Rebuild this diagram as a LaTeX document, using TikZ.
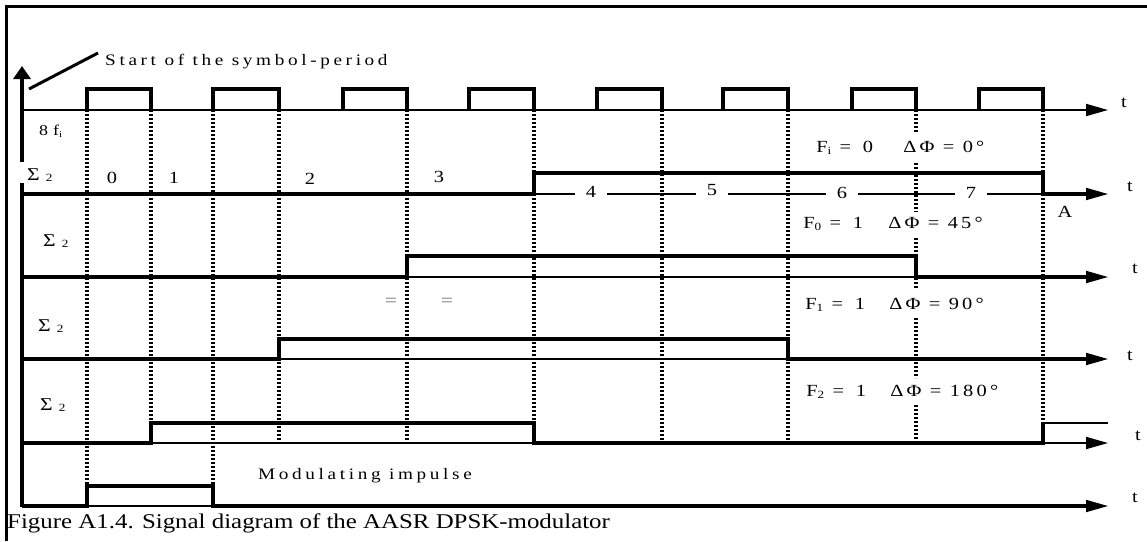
\documentclass[tikz,border=0pt]{standalone}
\usepackage{fontspec}
\setmainfont{Liberation Serif}
\newfontfamily\spacedA[LetterSpace=19]{Liberation Serif}
\newfontfamily\spacedB[LetterSpace=16]{Liberation Serif}
\usetikzlibrary{arrows.meta}
\tikzset{
  sig/.style={line width=3.2pt, line join=miter},
  axisline/.style={line width=1.8pt, -{Triangle[length=22pt,width=12pt]}},
  dotline/.style={line width=3.8pt, dash pattern=on 2.4pt off 1.6pt},
  txt/.style={inner sep=0pt, xscale=1.2},
  flab/.style={txt, anchor=base west, font=\spacedB\fontsize{17}{19}\selectfont},
  tlab/.style={txt, anchor=base, font=\fontsize{17}{19}\selectfont},
  siglab/.style={txt, anchor=base west, font=\fontsize{18}{20}\selectfont},
}
\newcommand{\sigtwo}{Σ\hspace{5pt}\raisebox{-1pt}{\fontsize{11}{12}\selectfont 2}}
\newcommand{\subsc}[1]{\raisebox{-2pt}{\fontsize{11}{12}\selectfont #1}}
\begin{document}
\begin{tikzpicture}[x=1pt,y=-1pt]
\useasboundingbox (0,0) rectangle (1147,541);
% frame
\draw[line width=3pt] (6,541) -- (6,6) -- (1147,6);
% vertical axis
\draw[line width=4.5pt, -{Triangle[length=13pt,width=17pt]}] (22,507) -- (22,66);
\fill[white] (15,162) rectangle (29,183);
\draw[line width=3pt] (29,89) -- (98,53);
\node[txt, anchor=base west, font=\spacedA\fontsize{16}{18}\selectfont] (start) at (105,65) {Start of the symbol-period};
% horizontal axes
\draw[axisline] (22,110) -- (1108,110);
\draw[axisline] (22,194) -- (1108,194);
\draw[axisline] (22,277) -- (1108,277);
\draw[axisline] (22,359) -- (1108,359);
\draw[axisline] (22,443) -- (1108,443);
\draw[axisline] (22,506) -- (1108,506);
% clock
\foreach \r/\f in {87/151, 213/279, 343/407, 469/534, 597/662, 723/788, 852/916, 979/1043}
  \draw[sig] (\r,110) -- (\r,89) -- (\f,89) -- (\f,110);
% dotted lines
\foreach \x in {87,213} \draw[dotline] (\x,110) -- (\x,506);
\foreach \x in {151,279,407,534,662,788,1043} \draw[dotline] (\x,110) -- (\x,443);
\foreach \a/\b in {110/133, 163/212, 238/288, 318/378, 405/443} \draw[dotline] (916,\a) -- (916,\b);
% signals
\draw[sig] (22,194) -- (534,194) -- (534,173) -- (1043,173) -- (1043,194) -- (1092,194);
\draw[sig] (22,277) -- (407,277) -- (407,256) -- (916,256) -- (916,277) -- (1092,277);
\draw[sig] (22,359) -- (279,359) -- (279,339) -- (788,339) -- (788,359) -- (1092,359);
\draw[sig] (22,443) -- (151,443) -- (151,423) -- (534,423) -- (534,443) -- (1043,443) -- (1043,423);
\draw[line width=2.4pt] (1043,423) -- (1108,423);
\draw[sig] (22,506) -- (87,506) -- (87,486) -- (213,486) -- (213,506) -- (1092,506);
% left labels
\node[siglab, font=\fontsize{15}{17}\selectfont] (fi) at (39,135) {8\hspace{4pt}f\raisebox{-2pt}{\fontsize{9}{10}\selectfont i}};
\node[siglab] (s1) at (27,180) {\sigtwo};
\node[siglab] (s2) at (43,246) {\sigtwo};
\node[siglab] (s3) at (38,331) {\sigtwo};
\node[siglab] (s4) at (40,410) {\sigtwo};
% numbers
\node[tlab] (n0) at (112,183) {0};
\node[tlab] (n1) at (174,183) {1};
\node[tlab] (n2) at (310,184) {2};
\node[tlab] (n3) at (439,182) {3};
\node[tlab, fill=white, inner xsep=9pt, inner ysep=1pt] (n4) at (591,197) {4};
\node[tlab, fill=white, inner xsep=9pt, inner ysep=1pt] (n5) at (712,195) {5};
\node[tlab, fill=white, inner xsep=9pt, inner ysep=1pt] (n6) at (842,198) {6};
\node[tlab, fill=white, inner xsep=9pt, inner ysep=1pt] (n7) at (971,198) {7};
\node[tlab] (lA) at (1065,217) {A};
% t labels
\node[tlab] (t0) at (1124,107) {t};
\node[tlab] (t1) at (1130,191) {t};
\node[tlab] (t2) at (1135,273) {t};
\node[tlab] (t3) at (1130,360) {t};
\node[tlab] (t4) at (1138,440) {t};
\node[tlab] (t5) at (1135,502) {t};
% F labels
\node[flab] (fa) at (816,152) {F\subsc{i} = \,0};
\node[flab] (pa) at (903,152) {ΔΦ = 0°};
\node[flab] (fb) at (803,228) {F\subsc{0} = \,1};
\node[flab] (pb) at (888,228) {ΔΦ = 45°};
\node[flab] (fc) at (805,309) {F\subsc{1} = \,1};
\node[flab] (pc) at (889,309) {ΔΦ = 90°};
\node[flab] (fd) at (806,396) {F\subsc{2} = \,1};
\node[flab] (pd) at (890,396) {ΔΦ = 180°};
% equal signs
\node[txt, text=black!55, font=\fontsize{18}{20}\selectfont] (eq1) at (391,302) {=};
\node[txt, text=black!55, font=\fontsize{18}{20}\selectfont] (eq2) at (447,302) {=};
% modulating impulse
\node[txt, anchor=base west, font=\spacedA\fontsize{16}{18}\selectfont] (mod) at (258,479) {Modulating impulse};
% caption
\node[inner sep=0pt, xscale=1.185, anchor=base west, font=\fontsize{21}{24}\selectfont] (cap) at (7,528) {Figure A1.4. Signal diagram of the AASR DPSK-modulator};
\end{tikzpicture}
\end{document}
